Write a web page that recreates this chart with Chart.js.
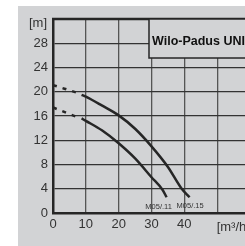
<!DOCTYPE html>
<html>
<head>
<meta charset="utf-8">
<script src="https://cdn.jsdelivr.net/npm/chart.js@4"></script>
<style>
  html, body { margin: 0; padding: 0; background: #fff; overflow: hidden; }
  canvas { display: block; }
</style>
</head>
<body>
<canvas id="pumpChart" width="262" height="246"></canvas>
<script>
// pump curves, flow [m3/h] vs head [m]
const flowDash = [0, 7];
const head11Dash = [17.4, 15.9];
const head15Dash = [21.1, 19.9];

const flow11 = [8.7, 10, 15, 20, 25, 30, 33.4, 34.6];
const head11 = [15.6, 15.2, 13.6, 11.5, 9.0, 5.9, 3.8, 2.6];

const flow15 = [8.7, 10, 15, 20, 25, 30, 35, 39.2, 41.6];
const head15 = [19.5, 19.2, 17.7, 16.1, 13.9, 11.0, 7.6, 4.0, 2.6];

const curveNames = ['M05/.11', 'M05/.15'];
const yTicks = [0, 4, 8, 12, 16, 20, 24, 28];
const xTicks = [0, 10, 20, 30, 40];

const pts = (xs, ys) => xs.map((x, i) => ({ x: x, y: ys[i] }));

const GRAY = '#d2d3d5';
const INK = '#262626';

const decor = {
    id: 'decor',
    beforeDraw(chart) {
        const ctx = chart.ctx;
        ctx.save();
        ctx.fillStyle = '#fff';
        ctx.fillRect(0, 0, chart.width, chart.height);
        ctx.fillStyle = GRAY;
        ctx.fillRect(18, 6, chart.width - 18, chart.height - 6);
        ctx.restore();
    },
    afterDraw(chart) {
        const ctx = chart.ctx;
        const a = chart.chartArea;
        const xs = chart.scales.x, ys = chart.scales.y;
        ctx.save();
        // top frame line
        ctx.strokeStyle = INK;
        ctx.lineWidth = 2.5;
        ctx.beginPath();
        ctx.moveTo(a.left - 1, a.top);
        ctx.lineTo(a.right, a.top);
        ctx.stroke();

        // title box
        const bx = 149, by = a.top, bh = 39;
        ctx.fillStyle = GRAY;
        ctx.fillRect(bx, by, 120, bh);
        ctx.lineWidth = 1.5;
        ctx.strokeRect(bx, by, 120, bh);
        ctx.fillStyle = '#111';
        ctx.font = 'bold 12.5px "Liberation Sans", Arial, sans-serif';
        ctx.textBaseline = 'alphabetic';
        ctx.textAlign = 'left';
        ctx.fillText('Wilo-Padus UNI', 152, 45);

        // axis units
        ctx.fillStyle = '#333';
        ctx.font = '13px "Liberation Sans", Arial, sans-serif';
        ctx.textAlign = 'right';
        ctx.textBaseline = 'middle';
        ctx.fillText('[m]', 47, 23);
        ctx.textAlign = 'left';
        ctx.fillText('[m\u00B3/h]', xs.getPixelForValue(50) - 0.5, 227);

        // curve labels
        ctx.font = '7.5px "Liberation Sans", Arial, sans-serif';
        ctx.textAlign = 'center';
        ctx.fillText(curveNames[0], xs.getPixelForValue(flow11[flow11.length - 1]) - 8, 206.5);
        ctx.fillText(curveNames[1], xs.getPixelForValue(flow15[flow15.length - 1]) + 0.5, 205.5);
        ctx.restore();
    }
};

const lineStyle = {
    borderColor: INK,
    borderWidth: 2.5,
    pointRadius: 0,
    showLine: true,
    fill: false,
    cubicInterpolationMode: 'monotone'
};

new Chart(document.getElementById('pumpChart').getContext('2d'), {
    type: 'scatter',
    data: {
        datasets: [
            Object.assign({ label: curveNames[0] + ' dash', data: pts(flowDash, head11Dash), borderDash: [4, 6] }, lineStyle),
            Object.assign({ label: curveNames[1] + ' dash', data: pts(flowDash, head15Dash), borderDash: [4, 6] }, lineStyle),
            Object.assign({ label: curveNames[0], data: pts(flow11, head11) }, lineStyle),
            Object.assign({ label: curveNames[1], data: pts(flow15, head15) }, lineStyle)
        ]
    },
    options: {
        responsive: false,
        animation: false,
        layout: { padding: { left: 0, right: 12, top: 19, bottom: 0 } },
        plugins: { legend: { display: false }, tooltip: { enabled: false } },
        scales: {
            x: {
                type: 'linear',
                min: 0,
                max: 60,
                afterFit: s => { s.height = 33; },
                afterBuildTicks: s => { s.ticks = [0, 10, 20, 30, 40, 50, 60].map(v => ({ value: v })); },
                ticks: {
                    color: '#333',
                    padding: 4,
                    maxRotation: 0,
                    font: { family: '"Liberation Sans", Arial, sans-serif', size: 13 },
                    callback: v => xTicks.includes(v) ? String(v) : ''
                },
                grid: { color: '#555', lineWidth: 1.3, drawTicks: false },
                border: { display: true, color: INK, width: 2.5 }
            },
            y: {
                type: 'linear',
                min: 0,
                max: 32,
                afterFit: s => { s.width = 53; },
                afterBuildTicks: s => { s.ticks = yTicks.concat([32]).map(v => ({ value: v })); },
                ticks: {
                    color: '#333',
                    padding: 5,
                    font: { family: '"Liberation Sans", Arial, sans-serif', size: 13 },
                    callback: v => yTicks.includes(v) ? String(v) : ''
                },
                grid: { color: '#333', lineWidth: 1.3, drawTicks: false },
                border: { display: true, color: INK, width: 2.5 }
            }
        }
    },
    plugins: [decor]
});
</script>
</body>
</html>
